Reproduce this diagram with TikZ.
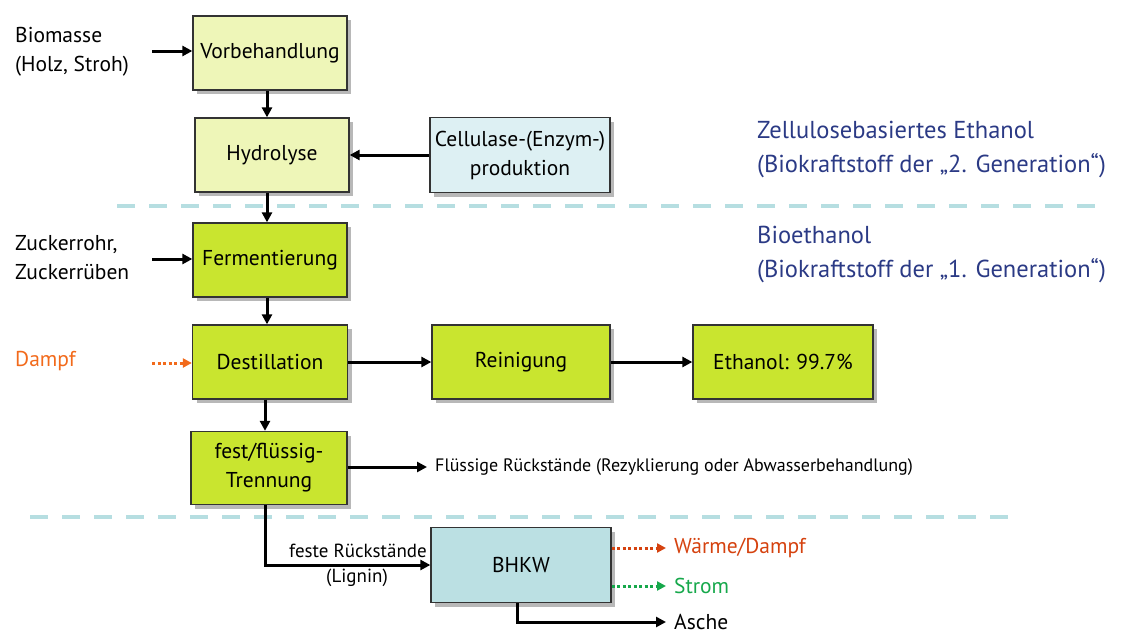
\documentclass[tikz,border=0pt]{standalone}
\usepackage{fontspec}
\setmainfont{PT Sans}
\usetikzlibrary{arrows.meta,shadows}

\definecolor{procgreen}{HTML}{C9E52F}
\definecolor{palegreen}{HTML}{EEF6B8}
\definecolor{paleblue}{HTML}{DDF0F3}
\definecolor{chpblue}{HTML}{BBE0E3}
\definecolor{sepblue}{HTML}{B6DEE1}
\definecolor{navytext}{HTML}{2B3A85}
\definecolor{steamorange}{HTML}{F26A1B}
\definecolor{heatred}{HTML}{D5420F}
\definecolor{powergreen}{HTML}{16A84B}

\begin{document}
\begin{tikzpicture}[x=1pt,y=-1pt,
  txt/.style={font=\fontsize{21.5}{29}\selectfont, inner sep=0pt},
  small/.style={font=\fontsize{19}{26}\selectfont, inner sep=0pt},
  box/.style={draw=black!80, line width=1.3pt, minimum width=154pt, minimum height=74pt,
    align=center, inner sep=2pt, font=\fontsize{21.5}{29}\selectfont,
    drop shadow={shadow xshift=4pt, shadow yshift=-4pt, fill=black, opacity=0.28}},
  pre/.style={box, fill=palegreen},
  main/.style={box, fill=procgreen},
  arr/.style={line width=3pt, -{Triangle[length=10pt,width=10pt]}},
  dotarr/.style={line width=3pt, dash pattern=on 3pt off 2.5pt,
    -{Triangle[length=9pt,width=9pt]}},
  sep/.style={sepblue, line width=4.5pt, dash pattern=on 18pt off 14pt},
  side/.style={font=\fontsize{24.5}{34}\selectfont, text=navytext, anchor=west, align=left, inner sep=0pt}]

\useasboundingbox (0,0) rectangle (1130,637);

% separators between the generations
\draw[sep] (117,206) -- (1100,206);
\draw[sep] (30,517) -- (1015,517);

% process boxes
\node[pre] (vb) at (270,53) {Vorbehandlung};
\node[pre] (hy) at (272,155) {Hydrolyse};
\node[box, fill=paleblue, minimum width=180pt, minimum height=75pt] (cel) at (520,155) {Cellulase-(Enzym-)\\produktion};
\node[main] (fe) at (270,260) {Fermentierung};
\node[main, minimum width=155pt] (de) at (270,362) {Destillation};
\node[main, minimum width=156pt, minimum height=73pt] (tr) at (269,468) {fest/flüssig-\\Trennung};
\node[main, minimum width=178pt] (re) at (521,362) {Reinigung};
\node[main, minimum width=180pt] (et) at (783,362) {Ethanol: 99.7\%};
\node[box, fill=chpblue, minimum width=180pt, minimum height=75pt] (bh) at (521,565) {BHKW};

% inputs on the left
\node[txt, anchor=west, align=left] (bm) at (15,52) {Biomasse\\(Holz, Stroh)};
\node[txt, anchor=west, align=left] (zr) at (15,258) {Zuckerrohr,\\Zuckerrüben};
\node[txt, anchor=west, text=steamorange] (da) at (15,361) {Dampf};
\coordinate (bmIn) at (152,51);
\coordinate (zrIn) at (152,259);
\coordinate (daIn) at (152,363);

% side captions
\node[side] (gen2) at (757,150) {Zellulosebasiertes Ethanol\\(Biokraftstoff der „2. Generation“)};
\node[side] (gen1) at (757,255) {Bioethanol\\(Biokraftstoff der „1. Generation“)};

% outputs
\node[font=\fontsize{18}{22}\selectfont, inner sep=0pt, anchor=west] (fl) at (435,467) {Flüssige Rückstände (Rezyklierung oder Abwasserbehandlung)};
\node[txt, anchor=west, text=heatred] (wd) at (674,548) {Wärme/Dampf};
\node[txt, anchor=west, text=powergreen] (st) at (674,586) {Strom};
\node[txt, anchor=west] (as) at (674,622) {Asche};
\node[small, anchor=east] (fr) at (427,551) {feste Rückstände};
\node[small] (lg) at (357,578) {(Lignin)};

% connectors
\draw[arr] (bmIn) -- (vb.west |- bmIn);
\draw[arr] (vb.south -| 267,0) -- (hy.north -| 267,0);
\draw[arr] (cel.west) -- (hy.east);
\draw[arr] (hy.south -| 267,0) -- (fe.north -| 267,0);
\draw[arr] (zrIn) -- (fe.west |- zrIn);
\draw[arr] (fe.south -| 267,0) -- (de.north -| 267,0);
\draw[dotarr, steamorange] (daIn) -- (de.west |- daIn);
\draw[arr] (de.east) -- (re.west);
\draw[arr] (re.east) -- (et.west);
\draw[arr] (de.south -| 265,0) -- (tr.north -| 265,0);
\draw[arr] (tr.east |- fl.west) -- ([xshift=-8pt]fl.west);
\draw[arr] (tr.south -| 265,0) |- (bh.west);
\draw[dotarr, heatred] (bh.east |- wd.west) -- ([xshift=-8pt]wd.west);
\draw[dotarr, powergreen] (bh.east |- st.west) -- ([xshift=-8pt]st.west);
\draw[arr] (bh.south -| 517,0) |- ([xshift=-8pt]as.west);
\end{tikzpicture}
\end{document}
